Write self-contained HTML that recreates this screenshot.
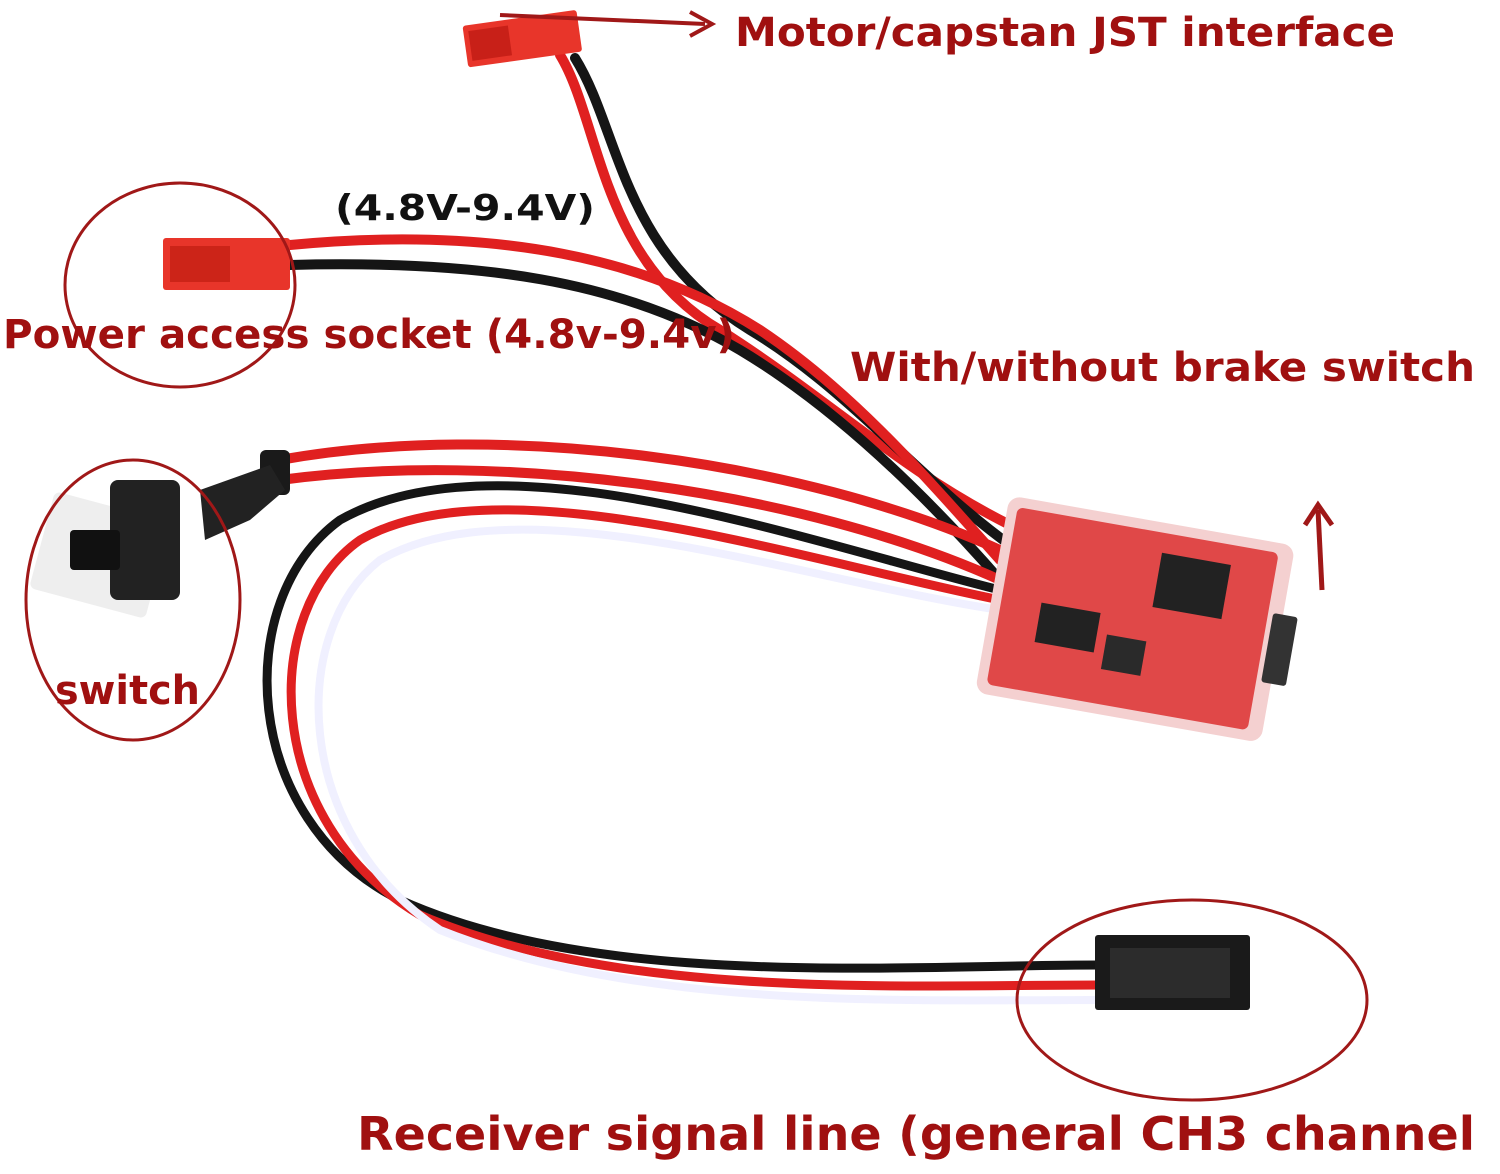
<!DOCTYPE html>
<html><head><meta charset="utf-8"><style>
html,body{margin:0;padding:0;background:#fff;}
svg{display:block;}
text{font-family:"DejaVu Sans","Liberation Sans",sans-serif;font-weight:bold;}
</style></head><body>
<svg width="1500" height="1174" viewBox="0 0 1500 1174" xmlns="http://www.w3.org/2000/svg">
<rect width="1500" height="1174" fill="#fff"/>
<g fill="none" stroke-linecap="round">
<path d="M560,55 C600,120 600,260 720,330 C830,400 900,470 1010,525" stroke="#e02020" stroke-width="10"/>
<path d="M575,58 C620,130 620,250 750,330 C850,390 920,480 1010,545" stroke="#151515" stroke-width="10"/>
<path d="M290,245 C500,225 650,260 760,330 C850,390 920,470 1000,560" stroke="#e02020" stroke-width="10"/>
<path d="M290,265 C480,260 620,280 740,350 C840,410 930,500 1000,580" stroke="#151515" stroke-width="10"/>
<path d="M280,460 C500,420 800,460 1000,550" stroke="#e02020" stroke-width="10"/>
<path d="M280,480 C500,450 800,490 1000,580" stroke="#e02020" stroke-width="10"/>
<path d="M1000,590 C800,540 500,430 340,520 C230,600 240,820 400,900 C600,990 900,965 1100,965" stroke="#151515" stroke-width="9"/>
<path d="M1000,600 C800,560 500,460 360,540 C260,610 260,820 420,915 C620,1000 900,985 1100,985" stroke="#e02020" stroke-width="9"/>
<path d="M1000,610 C800,580 520,480 380,560 C290,630 290,830 440,930 C640,1010 900,1000 1100,1000" stroke="#f0f0ff" stroke-width="8"/>
</g>
<g transform="rotate(-8 520 40)">
<rect x="465" y="18" width="115" height="42" fill="#e8352a" rx="3"/>
<rect x="470" y="24" width="40" height="30" fill="#c82018"/>
</g>
<rect x="163" y="238" width="127" height="52" fill="#e8352a" rx="3"/>
<rect x="170" y="246" width="60" height="36" fill="#cc2418"/>
<rect x="260" y="450" width="30" height="45" fill="#1a1a1a" rx="6"/>
<path d="M200,490 L270,465 L285,490 L250,520 L205,540 Z" fill="#222"/>
<rect x="40" y="505" width="120" height="100" fill="#eee" rx="6" transform="rotate(15 100 555)"/>
<rect x="110" y="480" width="70" height="120" fill="#222" rx="8"/>
<rect x="70" y="530" width="50" height="40" fill="#111" rx="4"/>
<g transform="rotate(10 1140 620)">
<rect x="990" y="520" width="290" height="200" fill="#f4d0d0" rx="12"/>
<rect x="1000" y="530" width="265" height="180" fill="#e04848" rx="6"/>
<rect x="1150" y="550" width="70" height="55" fill="#222"/>
<rect x="1040" y="620" width="60" height="40" fill="#222"/>
<rect x="1110" y="640" width="40" height="35" fill="#2a2a2a"/>
<rect x="1270" y="590" width="25" height="70" fill="#333" rx="3"/>
</g>
<rect x="1095" y="935" width="155" height="75" fill="#1a1a1a" rx="3"/>
<rect x="1110" y="948" width="120" height="50" fill="#2c2c2c"/>
<g fill="none" stroke="#a01818" stroke-width="3">
<ellipse cx="180" cy="285" rx="115" ry="102"/>
<ellipse cx="133" cy="600" rx="107" ry="140"/>
<ellipse cx="1192" cy="1000" rx="175" ry="100"/>
</g>
<g stroke="#a01818" stroke-width="4" fill="none">
<line x1="500" y1="15" x2="705" y2="24"/>
<path d="M690,12 L712,24 L690,36"/>
<line x1="1322" y1="590" x2="1318" y2="510" stroke-width="5"/>
<path d="M1305,525 L1318,505 L1332,525" stroke-width="5"/>
</g>
<g fill="#a01010">
<text x="735" y="46" font-size="40" textLength="660" lengthAdjust="spacingAndGlyphs">Motor/capstan JST interface</text>
<text x="3" y="348" font-size="40" textLength="732" lengthAdjust="spacingAndGlyphs">Power access socket (4.8v-9.4v)</text>
<text x="850" y="381" font-size="40" textLength="625" lengthAdjust="spacingAndGlyphs">With/without brake switch</text>
<text x="55" y="704" font-size="40" textLength="145" lengthAdjust="spacingAndGlyphs">switch</text>
<text x="357" y="1150" font-size="46" textLength="1118" lengthAdjust="spacingAndGlyphs">Receiver signal line (general CH3 channel</text>
</g>
<text x="335" y="220" font-size="36" fill="#111" textLength="260" lengthAdjust="spacingAndGlyphs">(4.8V-9.4V)</text>
</svg>
</body></html>
